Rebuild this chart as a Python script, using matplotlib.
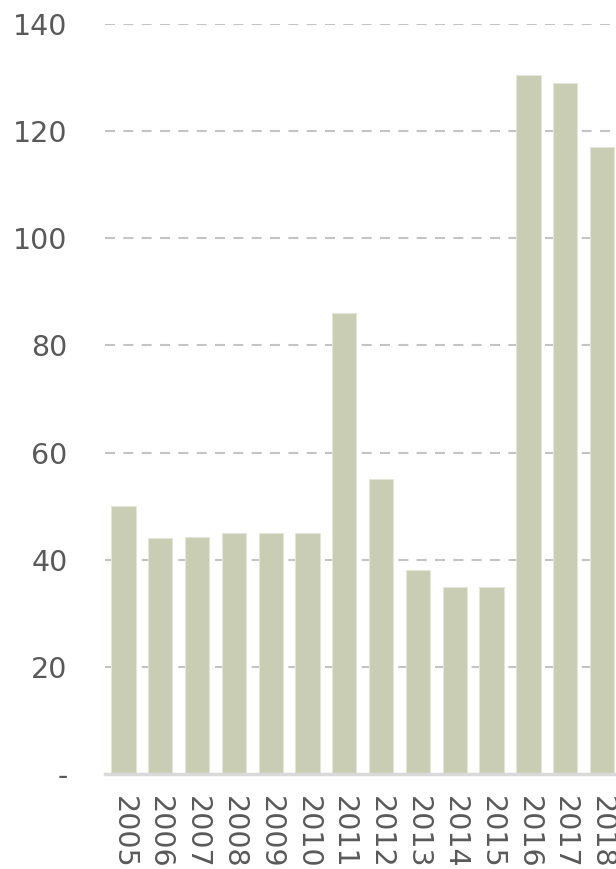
import matplotlib
matplotlib.use("Agg")
import matplotlib.pyplot as plt
import numpy as np

years = ["2005", "2006", "2007", "2008", "2009", "2010", "2011", "2012",
         "2013", "2014", "2015", "2016", "2017", "2018"]
values = [50, 44, 44.3, 45, 45, 45, 86, 55, 38, 35, 35, 130.5, 129, 117]
yticks = [0, 20, 40, 60, 80, 100, 120, 140]
ytick_labels = ["-", "20", "40", "60", "80", "100", "120", "140"]

fig = plt.figure(figsize=(6.16, 8.69), dpi=100)
ax = fig.add_axes([105/616, 95/869, 1 - 105/616, (774-24)/869])

x = np.arange(len(years))
ax.bar(x, values, width=0.66, color="#C9CDB3", edgecolor="#E4E6D9",
       linewidth=0.8, zorder=3)

ax.set_ylim(0, 140)
ax.set_xlim(-0.5, 13.38)
ax.set_yticks(yticks)
ax.set_yticklabels(ytick_labels)
ax.set_xticks(x)
ax.set_xticklabels(years, rotation=270, va="top", ha="center")

for v in yticks[1:]:
    ax.axhline(v, color="#C4C4C4", linewidth=1.5, linestyle=(0, (4.8, 4)), zorder=1)
ax.axhline(0, color="#D9D9D9", linewidth=2.5, zorder=4, clip_on=False)

for s in ax.spines.values():
    s.set_visible(False)
ax.tick_params(axis="both", length=0, labelsize=20.5, colors="#595959")
ax.tick_params(axis="y", pad=27)
ax.tick_params(axis="x", pad=16)

fig.savefig("out.png", dpi=100)
